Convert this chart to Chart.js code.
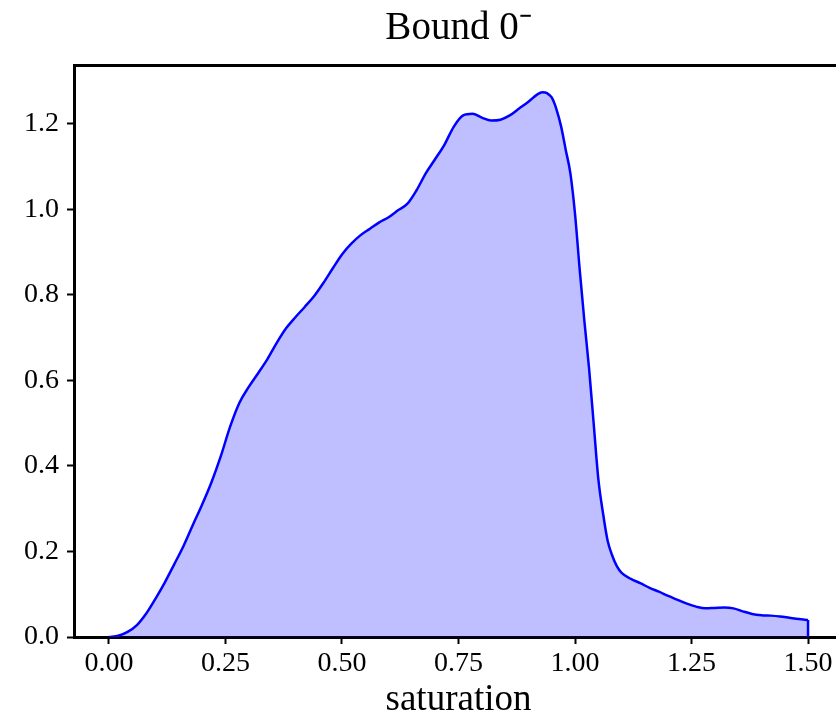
<!DOCTYPE html>
<html>
<head>
<meta charset="utf-8">
<script src="https://cdn.jsdelivr.net/npm/chart.js@4/dist/chart.umd.min.js"></script>
<style>
  html, body { margin: 0; padding: 0; background: #fff; overflow: hidden; }
  #wrap { width: 860px; height: 715px; }
</style>
</head>
<body>
<div id="wrap"><canvas id="myChart" width="860" height="715"></canvas></div>
<script>
// data
const saturation = [
  0.00, 0.02, 0.04, 0.06, 0.08, 0.10, 0.12, 0.14, 0.16, 0.18,
  0.20, 0.22, 0.24, 0.26, 0.28, 0.30, 0.32, 0.34, 0.36, 0.38,
  0.40, 0.42, 0.44, 0.46, 0.48, 0.50, 0.52, 0.54, 0.56, 0.58,
  0.60, 0.62, 0.64, 0.66, 0.68, 0.70, 0.72, 0.74, 0.76, 0.78,
  0.80, 0.82, 0.84, 0.86, 0.88, 0.90, 0.92, 0.93, 0.94, 0.95,
  0.96, 0.97, 0.98, 0.99, 1.00, 1.01, 1.02, 1.03, 1.04, 1.05,
  1.06, 1.07, 1.08, 1.09, 1.10, 1.12, 1.14, 1.16, 1.18, 1.20,
  1.22, 1.24, 1.26, 1.28, 1.30, 1.32, 1.34, 1.36, 1.38, 1.40,
  1.42, 1.44, 1.46, 1.48, 1.50
];
const density = [
  0.000, 0.003, 0.012, 0.028, 0.055, 0.090, 0.128, 0.170, 0.213, 0.262,
  0.310, 0.362, 0.423, 0.492, 0.548, 0.585, 0.617, 0.650, 0.688, 0.722,
  0.748, 0.772, 0.797, 0.828, 0.862, 0.895, 0.920, 0.940, 0.955, 0.970,
  0.982, 0.998, 1.013, 1.045, 1.085, 1.118, 1.152, 1.194, 1.220, 1.224,
  1.215, 1.208, 1.210, 1.220, 1.236, 1.252, 1.270, 1.274, 1.272, 1.262,
  1.235, 1.195, 1.140, 1.085, 0.990, 0.860, 0.740, 0.630, 0.500, 0.370,
  0.290, 0.225, 0.190, 0.165, 0.150, 0.136, 0.126, 0.115, 0.106, 0.096,
  0.087, 0.078, 0.071, 0.067, 0.068, 0.069, 0.067, 0.060, 0.054, 0.051,
  0.050, 0.048, 0.045, 0.042, 0.040
];
const xTicks = [0, 0.25, 0.5, 0.75, 1.0, 1.25, 1.5];
const yTicks = [0, 0.2, 0.4, 0.6, 0.8, 1.0, 1.2];

const serif = "'Liberation Serif', 'Times New Roman', serif";
const last = saturation.length - 1;

// right spine
const frame = {
  id: "frame",
  afterDraw(chart) {
    const { ctx, chartArea: a } = chart;
    ctx.save();
    ctx.strokeStyle = "#000";
    ctx.lineWidth = 3;
    ctx.beginPath();
    ctx.moveTo(a.right, a.top);
    ctx.lineTo(a.right, a.bottom);
    ctx.stroke();
    ctx.restore();
  },
};

const tickGrid = {
  display: true,
  drawOnChartArea: false,
  drawTicks: true,
  tickLength: 7,
  tickWidth: 2,
  color: "#000",
};

const config = {
  type: "line",
  data: {
    datasets: [
      {
        data: saturation.map((x, i) => ({ x: x, y: density[i] })),
        borderColor: "#0000ff",
        borderWidth: 2.5,
        backgroundColor: "rgba(0, 0, 255, 0.25)",
        fill: "origin",
        pointRadius: 0,
        cubicInterpolationMode: "monotone",
      },
      {
        // closing edge of the filled region at x = 1.5
        data: [
          { x: saturation[last], y: density[last] },
          { x: saturation[last], y: 0 },
        ],
        borderColor: "#0000ff",
        borderWidth: 2.5,
        fill: false,
        pointRadius: 0,
        tension: 0,
      },
    ],
  },
  options: {
    responsive: false,
    animation: false,
    layout: { padding: { left: 0, right: 17, top: 0, bottom: 0 } },
    plugins: {
      legend: { display: false },
      tooltip: { enabled: false },
      title: { display: false },
    },
    scales: {
      x: {
        type: "linear",
        min: -0.075,
        max: 1.575,
        afterBuildTicks: (scale) => {
          scale.ticks = xTicks.map((v) => ({ value: v }));
        },
        afterFit: (scale) => {
          scale.height = 78;
        },
        ticks: {
          color: "#000",
          font: { family: serif, size: 28 },
          padding: 3,
          maxRotation: 0,
          callback: (v) => Number(v).toFixed(2),
        },
        grid: tickGrid,
        border: { display: true, color: "#000", width: 3 },
        title: {
          display: true,
          text: "saturation",
          color: "#000",
          font: { family: serif, size: 37, lineHeight: 0.8 },
          padding: { top: 0, bottom: 0 },
        },
      },
      x2: {
        // top spine, carries the chart title centred over the plot area
        type: "linear",
        position: "top",
        min: -0.075,
        max: 1.575,
        afterFit: (scale) => {
          scale.height = 65;
        },
        ticks: { display: false },
        grid: { display: false, drawTicks: false },
        border: { display: true, color: "#000", width: 3 },
        title: {
          display: true,
          text: "Bound 0\u207B",
          color: "#000",
          font: { family: serif, size: 39, lineHeight: 1.2 },
          padding: { top: 5, bottom: 0 },
        },
      },
      y: {
        type: "linear",
        min: 0,
        max: 1.338,
        afterBuildTicks: (scale) => {
          scale.ticks = yTicks.map((v) => ({ value: v }));
        },
        afterFit: (scale) => {
          scale.width = 74;
        },
        ticks: {
          color: "#000",
          font: { family: serif, size: 28 },
          padding: 8,
          callback: (v) => Number(v).toFixed(1),
        },
        grid: tickGrid,
        border: { display: true, color: "#000", width: 3 },
      },
    },
  },
  plugins: [frame],
};

const myChart = new Chart(document.getElementById("myChart"), config);
</script>
</body>
</html>
